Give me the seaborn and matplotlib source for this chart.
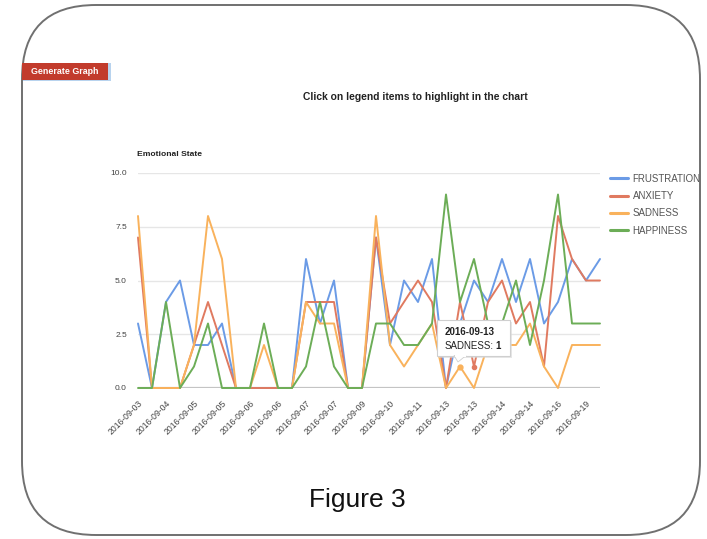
import matplotlib
matplotlib.use("Agg")
import matplotlib.pyplot as plt
import numpy as np
import pandas as pd
import seaborn as sns
from matplotlib.patches import FancyBboxPatch, Rectangle, Polygon

# ---- data -------------------------------------------------------------
series = ["FRUSTRATION", "ANXIETY", "SADNESS", "HAPPINESS"]
frustration = [3, 0, 4, 5, 2, 2, 3, 0, 0, 0, 0, 0, 6, 3, 5, 0, 0,
               7, 2, 5, 4, 6, 0, 3, 5, 4, 6, 4, 6, 3, 4, 6, 5, 6]
anxiety = [7, 0, 0, 0, 2, 4, 2, 0, 0, 0, 0, 0, 4, 4, 4, 0, 0,
           7, 3, 4, 5, 4, 0, 4, 1, 4, 5, 3, 4, 1, 8, 6, 5, 5]
sadness = [8, 0, 0, 0, 2, 8, 6, 0, 0, 2, 0, 0, 4, 3, 3, 0, 0,
           8, 2, 1, 2, 3, 0, 1, 0, 2, 2, 2, 3, 1, 0, 2, 2, 2]
happiness = [0, 0, 4, 0, 1, 3, 0, 0, 0, 3, 0, 0, 1, 4, 1, 0, 0,
             3, 3, 2, 2, 3, 9, 4, 6, 3, 3, 5, 2, 5, 9, 3, 3, 3]
date_labels = ["2016-09-03", "2016-09-04", "2016-09-05", "2016-09-05",
               "2016-09-06", "2016-09-06", "2016-09-07", "2016-09-07",
               "2016-09-09", "2016-09-10", "2016-09-11", "2016-09-13",
               "2016-09-13", "2016-09-14", "2016-09-14", "2016-09-16",
               "2016-09-19"]
y_ticks = [0, 2.5, 5, 7.5, 10]
y_tick_labels = ["0.0", "2.5", "5.0", "7.5", "10.0"]
tooltip_index = 23
tooltip_date = "2016-09-13"

colors = {"FRUSTRATION": "#6b9be6", "ANXIETY": "#e07a60",
          "SADNESS": "#f9b25c", "HAPPINESS": "#6cad57"}

values = {"FRUSTRATION": frustration, "ANXIETY": anxiety,
          "SADNESS": sadness, "HAPPINESS": happiness}
df = pd.DataFrame([
    {"idx": i, "value": v, "state": s}
    for s in series for i, v in enumerate(values[s])
])

# ---- figure -----------------------------------------------------------
sns.set_style("white")
plt.rcParams["font.family"] = ["Liberation Sans", "DejaVu Sans"]

W, H = 707, 539
fig = plt.figure(figsize=(W / 100, H / 100), dpi=100)


def fy(py):
    return 1 - py / H


# rounded frame around the whole panel
frame = FancyBboxPatch((0.22, 0.04), 6.78, 5.30,
                       boxstyle="round,pad=0,rounding_size=0.74",
                       transform=fig.dpi_scale_trans, fill=False,
                       edgecolor="#707070", linewidth=1.4)
fig.patches.append(frame)

# "Generate Graph" button
fig.patches.append(Rectangle((23 / W, fy(81)), 88 / W, 18 / H,
                             transform=fig.transFigure,
                             facecolor="#b8d3ee", edgecolor="none"))
fig.patches.append(Rectangle((22 / W, fy(80)), 86 / W, 17 / H,
                             transform=fig.transFigure,
                             facecolor="#c23b2c", edgecolor="none"))
fig.text(65 / W, fy(71.5), "Generate Graph", color="white",
         fontsize=6.4, fontweight="bold", ha="center", va="center")

fig.text(415 / W, fy(97), "Click on legend items to highlight in the chart",
         fontsize=7.4, fontweight="bold", color="#222222",
         ha="center", va="center")
fig.text(137 / W, fy(155), "Emotional State", fontsize=6.1,
         fontweight="bold", color="#222222", ha="left", va="center")

# ---- chart ------------------------------------------------------------
ax = fig.add_axes([138 / W, fy(388), 462 / W, 215 / H])
sns.lineplot(data=df, x="idx", y="value", hue="state", hue_order=series,
             palette=colors, linewidth=1.4, ax=ax, legend=True)
for line in ax.lines:
    line.set_clip_on(False)
    line.set_zorder(3)

ax.set_xlim(0, len(frustration) - 1)
ax.set_ylim(0, 10)
for sp in ax.spines.values():
    sp.set_visible(False)
ax.set_yticks(y_ticks)
ax.set_yticklabels(y_tick_labels)
ax.yaxis.grid(True, color="#e6e6e6", linewidth=1.0)
ax.set_axisbelow(True)
ax.axhline(0, color="#c4c4c4", linewidth=1.6, zorder=1)

ax.set_xticks(range(0, len(frustration), 2))
ax.set_xticklabels(date_labels, rotation=45, ha="right",
                   rotation_mode="anchor")
ax.tick_params(axis="x", length=0, pad=8, labelsize=6.2, labelcolor="#444444")
ax.tick_params(axis="y", length=0, pad=8, labelsize=6, labelcolor="#444444")
ax.set_xlabel("")
ax.set_ylabel("")

# hovered points
ax.plot([tooltip_index], [sadness[tooltip_index]], "o", ms=3.5,
        color=colors["SADNESS"], zorder=5, clip_on=False)
ax.plot([tooltip_index + 1], [anxiety[tooltip_index + 1]], "o", ms=3,
        color=colors["ANXIETY"], zorder=5, clip_on=False)

# legend at the right
sns.move_legend(ax, "upper left", bbox_to_anchor=(606 / W, fy(170)),
                bbox_transform=fig.transFigure, frameon=False, title=None,
                fontsize=7, handlelength=1.9, handletextpad=0.45,
                labelspacing=0.75, borderaxespad=0)
leg = ax.get_legend()
for t in leg.get_texts():
    t.set_color("#555555")
for h in leg.legend_handles:
    h.set_linewidth(2.2)

# tooltip box
fig.patches.append(Rectangle((439 / W, fy(358)), 73 / W, 36 / H,
                             transform=fig.transFigure,
                             facecolor="#d8d8d8", edgecolor="none",
                             alpha=0.6, zorder=9))
fig.patches.append(Rectangle((437 / W, fy(356)), 73 / W, 36 / H,
                             transform=fig.transFigure,
                             facecolor="white", edgecolor="#cfcfcf",
                             linewidth=0.8, zorder=10))
fig.patches.append(Polygon([(454 / W, fy(355.5)), (466 / W, fy(355.5)),
                            (458 / W, fy(362))], closed=True,
                           transform=fig.transFigure, facecolor="white",
                           edgecolor="#cfcfcf", linewidth=0.6, zorder=10))
fig.patches.append(Rectangle((454.5 / W, fy(356.5)), 11 / W, 2 / H,
                             transform=fig.transFigure, facecolor="white",
                             edgecolor="none", zorder=11))
fig.text(445 / W, fy(332), tooltip_date, fontsize=7, fontweight="bold",
         color="#222222", ha="left", va="center", zorder=12)
fig.text(445 / W, fy(346), "SADNESS:", fontsize=7, color="#222222",
         ha="left", va="center", zorder=12)
fig.text(495 / W, fy(346), str(sadness[tooltip_index]), fontsize=7,
         fontweight="bold", color="#222222", ha="left", va="center",
         zorder=12)

fig.text(357 / W, fy(500), "Figure 3", fontsize=19, color="#111111",
         ha="center", va="center")

fig.savefig("out.png", dpi=100)
